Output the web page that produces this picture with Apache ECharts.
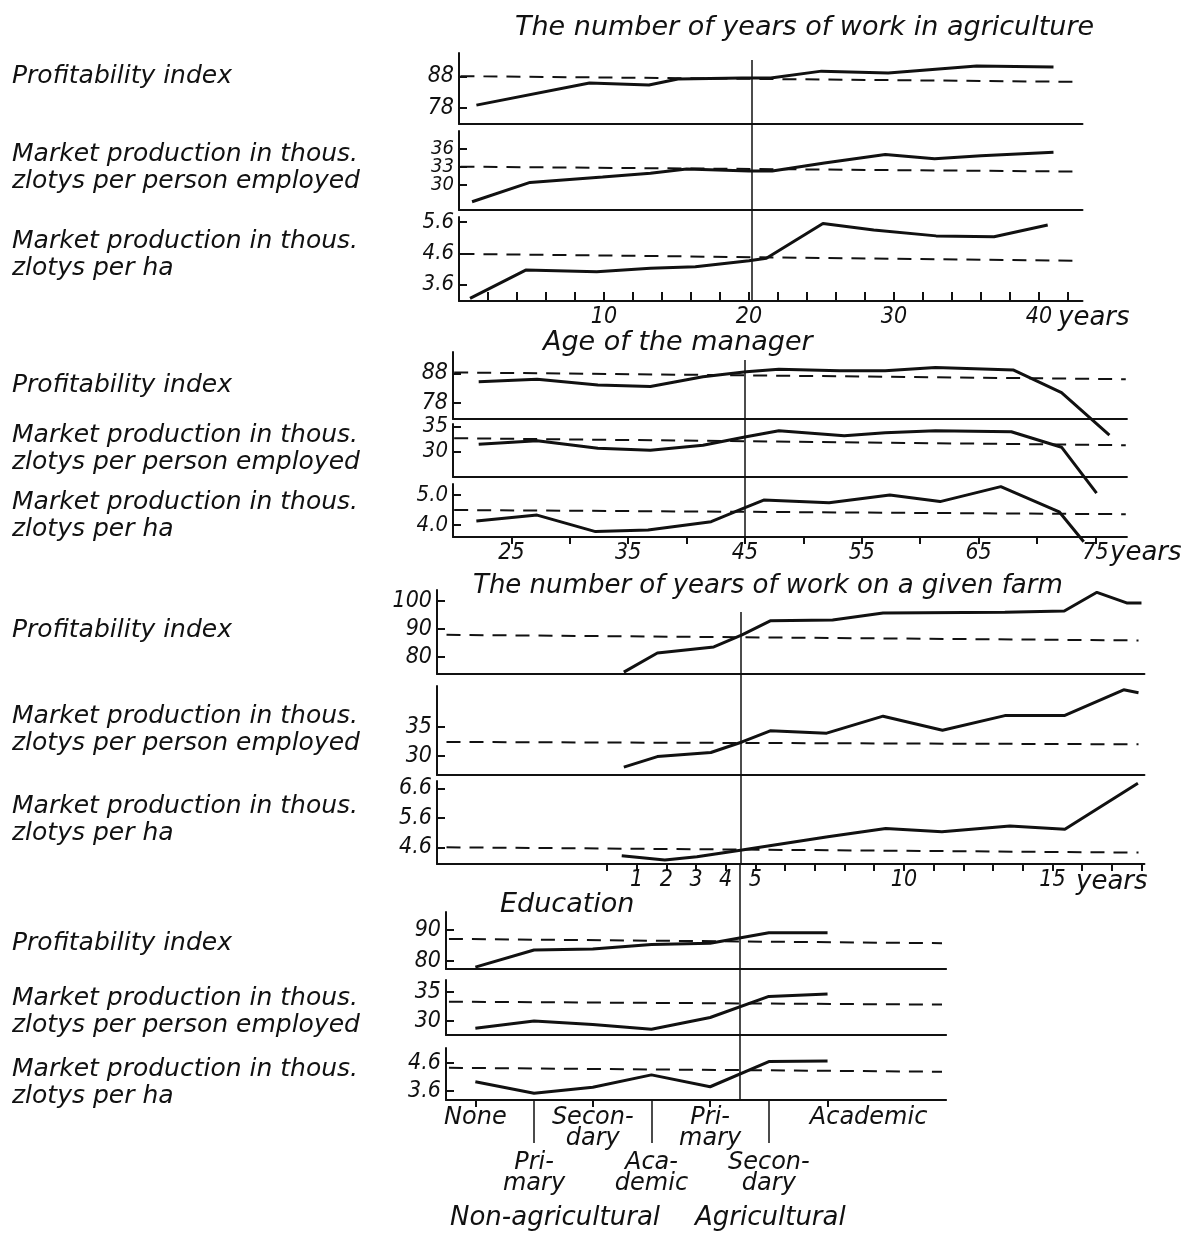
<!DOCTYPE html>
<html>
<head>
<meta charset="utf-8">
<script src="https://cdn.jsdelivr.net/npm/echarts@6/dist/echarts.min.js"></script>
<style>
html,body{margin:0;padding:0;background:#fff;}
#chart{width:1191px;height:1240px;}
</style>
</head>
<body>
<div id="chart"></div>
<script>
// ---------- DATA ----------
// Group 1: number of years of work in agriculture
const g1PiX = [1.2, 9.0, 13.1, 15.1, 19.5, 21.5, 25.0, 29.6, 35.7, 41.0];
const g1PiY = [78.9, 85.9, 85.3, 87.2, 87.5, 87.5, 89.7, 89.1, 91.3, 91.0];
const g1MpX = [0.9, 4.9, 9.9, 13.2, 15.7, 20.0, 21.6, 25.2, 29.4, 32.8, 36.0, 41.0];
const g1MpY = [27.2, 30.4, 31.3, 31.9, 32.6, 32.3, 32.3, 33.6, 35.0, 34.3, 34.8, 35.4];
const g1HaX = [0.76, 4.6, 9.5, 13.2, 16.3, 20.0, 21.2, 25.1, 28.6, 32.9, 36.9, 40.6];
const g1HaY = [3.15, 4.06, 4.01, 4.12, 4.17, 4.36, 4.44, 5.56, 5.35, 5.16, 5.13, 5.51];
const g1Avg = {pi: [88.1, 86.3], mp: [33.0, 32.2], ha: [4.58, 4.36]};
const g1Ref = 20.2;
const g1XLabels = [10, 20, 30, 40];

// Group 2: age of the manager
const g2PiX = [22.2, 27.2, 32.4, 36.9, 41.4, 45.1, 47.9, 53.1, 57.0, 61.3, 68.0, 72.1, 76.2];
const g2PiY = [85.1, 86.0, 84.0, 83.5, 86.8, 88.5, 89.4, 88.9, 88.9, 90.0, 89.1, 81.4, 67.0];
const g2MpX = [22.2, 27.2, 32.4, 36.9, 41.4, 45.1, 47.9, 53.5, 57.0, 61.3, 67.8, 72.1, 75.1];
const g2MpY = [31.5, 32.2, 30.7, 30.3, 31.3, 33.0, 34.2, 33.2, 33.8, 34.2, 34.0, 30.9, 21.7];
const g2HaX = [22.0, 27.2, 32.2, 36.7, 42.1, 44.9, 46.6, 52.2, 57.4, 61.7, 66.9, 71.9, 74.0];
const g2HaY = [4.13, 4.33, 3.78, 3.83, 4.11, 4.56, 4.83, 4.74, 5.0, 4.78, 5.28, 4.44, 3.44];
const g2Avg = {pi: [88.3, 86.0], mp: [32.7, 31.3], ha: [4.5, 4.36]};
const g2Ref = 45;
const g2XLabels = [25, 35, 45, 55, 65, 75];

// Group 3: number of years of work on a given farm
const g3PiX = [0.57, 1.7, 3.6, 4.55, 5.5, 7.6, 9.3, 13.4, 15.4, 16.5, 17.5, 18.0];
const g3PiY = [74.5, 81.3, 83.5, 87.8, 92.8, 93.1, 95.6, 95.9, 96.3, 103.0, 99.2, 99.2];
const g3MpX = [0.57, 1.7, 3.5, 4.55, 5.5, 7.4, 9.3, 11.3, 13.4, 15.4, 17.4, 17.9];
const g3MpY = [28.1, 29.9, 30.6, 32.4, 34.3, 33.9, 36.8, 34.4, 36.9, 36.9, 41.3, 40.8];
const g3HaX = [0.5, 1.95, 3.03, 4.55, 7.44, 9.39, 11.28, 13.57, 15.42, 17.88];
const g3HaY = [4.31, 4.17, 4.28, 4.51, 4.96, 5.24, 5.13, 5.32, 5.21, 6.77];
const g3Avg = {pi: [87.8, 85.8], mp: [32.4, 32.0], ha: [4.6, 4.42]};
const g3Ref = 4.5;
const g3XLabels = [1, 2, 3, 4, 5, 10, 15];

// Group 4: education
const eduCategories = ['None', 'Pri-\nmary', 'Secon-\ndary', 'Aca-\ndemic', 'Pri-\nmary', 'Secon-\ndary', 'Academic'];
const eduPi = [77.9, 83.5, 83.8, 85.3, 85.7, 89.1, 89.1];
const eduMp = [28.75, 30.0, 29.4, 28.6, 30.6, 34.2, 34.6];
const eduHa = [3.93, 3.52, 3.73, 4.17, 3.75, 4.64, 4.66];
const g4Avg = {pi: [87.1, 85.7], mp: [33.3, 32.8], ha: [4.42, 4.28]};
const g4Ref = 4.5;

// y tick labels per panel
const tPi1 = [78, 88], tMp1 = [30, 33, 36], tHa1 = [3.6, 4.6, 5.6];
const tPi2 = [78, 88], tMp2 = [30, 35], tHa2 = [4.0, 5.0];
const tPi3 = [80, 90, 100], tMp3 = [30, 35], tHa3 = [4.6, 5.6, 6.6];
const tPi4 = [80, 90], tMp4 = [30, 35], tHa4 = [3.6, 4.6];

// ---------- LAYOUT / STYLE ----------
const FONT = "'DejaVu Sans','Noto Sans',sans-serif";
const NUMFONT = "'DejaVu Sans Condensed','DejaVu Sans',sans-serif";
const INK = '#111';
const zip = (a, b) => a.map((v, i) => [v, b[i]]);
const idx = a => a.map((_, i) => i);
const range = (a, b, s) => { const r = []; for (let v = a; v <= b + 1e-9; v += s) r.push(+v.toFixed(4)); return r; };

const groups = [
  {left: 459, xmin: 0, xmax: 43, pxPer: 14.5, ref: g1Ref, vTop: 60,
   ticks: range(2, 42, 2), labels: g1XLabels, tickInside: true, dash: [0.1, 42.5],
   panels: [
     {top: 53, bottom: 124, ymin: 72.9, ymax: 95.46, t: tPi1, dec: 0, fs: 23, d: zip(g1PiX, g1PiY), avg: g1Avg.pi},
     {top: 131, bottom: 210, ymin: 25.84, ymax: 38.9, t: tMp1, dec: 0, fs: 20, split: true, d: zip(g1MpX, g1MpY), avg: g1Avg.mp},
     {top: 217, bottom: 301, ymin: 3.066, ymax: 5.767, t: tHa1, dec: 1, fs: 22, d: zip(g1HaX, g1HaY), avg: g1Avg.ha}
   ]},
  {left: 453, xmin: 20, xmax: 77.7, pxPer: 11.68, ref: g2Ref, vTop: 360,
   ticks: range(25, 75, 5), labels: g2XLabels, tickInside: false, dash: [20.1, 77.6],
   panels: [
     {top: 352, bottom: 419, ymin: 72.46, ymax: 95.24, t: tPi2, dec: 0, fs: 23, d: zip(g2PiX, g2PiY), avg: g2Avg.pi},
     {top: 424, bottom: 477, ymin: 24.94, ymax: 35.54, t: tMp2, dec: 0, fs: 22, d: zip(g2MpX, g2MpY), avg: g2Avg.mp},
     {top: 484, bottom: 537, ymin: 3.6, ymax: 5.367, t: tHa2, dec: 1, fs: 22, d: zip(g2HaX, g2HaY), avg: g2Avg.ha}
   ]},
  {left: 437, xmin: -5.72, xmax: 18.1, pxPer: 29.7, ref: g3Ref, vTop: 612,
   ticks: range(0, 18, 1), labels: g3XLabels, tickInside: false, dash: [-5.4, 17.9],
   panels: [
     {top: 590, bottom: 674, ymin: 73.82, ymax: 103.82, t: tPi3, dec: 0, fs: 23, d: zip(g3PiX, g3PiY), avg: g3Avg.pi},
     {top: 686, bottom: 775, ymin: 26.76, ymax: 41.95, t: tMp3, dec: 0, fs: 23, d: zip(g3MpX, g3MpY), avg: g3Avg.mp},
     {top: 781, bottom: 864, ymin: 4.034, ymax: 6.847, t: tHa3, dec: 1, fs: 23, d: zip(g3HaX, g3HaY), avg: g3Avg.ha}
   ]},
  {left: 446, xmin: -0.5, xmax: 8.02, pxPer: 58.7, ref: g4Ref, vTop: 864,
   ticks: [0, 2, 4, 6], labels: [], tickInside: false, dash: [-0.45, 7.95], edu: true,
   panels: [
     {top: 912, bottom: 969, ymin: 77.3, ymax: 95.86, t: tPi4, dec: 0, fs: 23, d: zip(idx(eduPi), eduPi), avg: g4Avg.pi},
     {top: 980, bottom: 1035, ymin: 27.61, ymax: 37.0, t: tMp4, dec: 0, fs: 23, d: zip(idx(eduMp), eduMp), avg: g4Avg.mp},
     {top: 1048, bottom: 1100, ymin: 3.282, ymax: 5.119, t: tHa4, dec: 1, fs: 23, d: zip(idx(eduHa), eduHa), avg: g4Avg.ha}
   ]}
];

const grid = [], xAxis = [], yAxis = [], series = [];
const numLabel = {fontSize: 23, fontStyle: 'italic', fontFamily: NUMFONT, color: INK, hideOverlap: false, showMinLabel: true, showMaxLabel: true};
const hidden = {axisLine: {show: false}, axisTick: {show: false}, splitLine: {show: false}};

groups.forEach((g, gi) => {
  const width = (g.xmax - g.xmin) * g.pxPer;
  g.panels.forEach((p, pi) => {
    const k = grid.length;
    const isBottom = pi === 2;
    grid.push({left: g.left, top: p.top, width: width, height: p.bottom - p.top, outerBoundsMode: 'none', containLabel: false});
    xAxis.push({
      type: 'value', gridIndex: k, min: g.xmin, max: g.xmax, position: 'bottom',
      axisLine: {show: true, onZero: false, lineStyle: {color: INK, width: 2}},
      splitLine: {show: false},
      axisTick: {show: isBottom, inside: g.tickInside, length: g.tickInside ? 9 : 7, customValues: g.ticks, lineStyle: {color: INK, width: 2}},
      axisLabel: {show: isBottom && g.labels.length > 0, customValues: g.labels, margin: 5, ...numLabel}
    });
    const lab1 = p.split ? p.t.filter((v, i) => i % 2 === 0) : p.t;
    yAxis.push({
      type: 'value', gridIndex: k, min: p.ymin, max: p.ymax,
      axisLine: {show: true, onZero: false, lineStyle: {color: INK, width: 2}},
      splitLine: {show: false},
      axisTick: {show: true, inside: true, length: 8, customValues: p.t, lineStyle: {color: INK, width: 2}},
      axisLabel: {customValues: lab1, formatter: v => v.toFixed(p.dec), margin: 5, ...numLabel, fontSize: p.fs, lineHeight: p.fs - 4}
    });
    series.push({
      type: 'line', xAxisIndex: k, yAxisIndex: k, data: p.d, symbol: 'none', clip: false,
      lineStyle: {color: INK, width: 3}, silent: true,
      markLine: {
        silent: true, symbol: ['none', 'none'], label: {show: false},
        lineStyle: {type: [14, 9], width: 2, color: INK},
        data: [[{coord: [g.dash[0], p.avg[0]]}, {coord: [g.dash[1], p.avg[1]]}]]
      }
    });
    p.gridIdx = k;
  });
});

// vertical reference lines (one overlay grid per group)
groups.forEach((g, gi) => {
  const k = grid.length;
  const width = (g.xmax - g.xmin) * g.pxPer;
  grid.push({left: g.left, top: g.vTop, width: width, height: g.panels[2].bottom - g.vTop, outerBoundsMode: 'none'});
  xAxis.push({type: 'value', gridIndex: k, min: g.xmin, max: g.xmax, show: false});
  yAxis.push({type: 'value', gridIndex: k, min: 0, max: 1, show: false});
  series.push({
    type: 'line', xAxisIndex: k, yAxisIndex: k, data: [], symbol: 'none',
    markLine: {silent: true, symbol: ['none', 'none'], label: {show: false},
      lineStyle: {type: 'solid', width: 1.5, color: INK},
      data: [[{coord: [g.ref, 0]}, {coord: [g.ref, 1]}]]}
  });
});

// extra y-label axes for crowded panels
groups.forEach(g => g.panels.forEach(p => {
  if (!p.split) return;
  yAxis.push({
    type: 'value', gridIndex: p.gridIdx, min: p.ymin, max: p.ymax, position: 'left', ...hidden,
    axisLabel: {customValues: p.t.filter((v, i) => i % 2 === 1), formatter: v => v.toFixed(p.dec), margin: 5, ...numLabel, fontSize: p.fs, lineHeight: p.fs - 4}
  });
}));

// education axis: labels in two staggered rows plus the shifted last label
{
  const g = groups[3];
  const gIdx = g.panels[2].gridIdx;
  const eduLabel = {fontSize: 24, fontStyle: 'italic', fontFamily: FONT, color: INK, lineHeight: 21,
    hideOverlap: false, showMinLabel: true, showMaxLabel: true, formatter: v => eduCategories[Math.round(v)]};
  // row 1 labels (0, 2, 4)
  xAxis.push({
    type: 'value', gridIndex: gIdx, min: g.xmin, max: g.xmax, position: 'bottom', ...hidden,
    axisLabel: {customValues: [0, 2, 4], margin: 7, ...eduLabel}
  });
  // row 2 labels (1, 3, 5) with long separator ticks
  xAxis.push({
    type: 'value', gridIndex: gIdx, min: g.xmin, max: g.xmax, position: 'bottom',
    axisLine: {show: false}, splitLine: {show: false},
    axisTick: {show: true, length: 43, customValues: [1, 3, 5], lineStyle: {color: INK, width: 1.5}},
    axisLabel: {customValues: [1, 3, 5], margin: 52, ...eduLabel}
  });
  // last label, set to the right of its tick
  xAxis.push({
    type: 'value', gridIndex: gIdx, min: g.xmin, max: g.xmax, position: 'bottom', ...hidden,
    axisLabel: {customValues: [6], margin: 7, ...eduLabel, padding: [0, 0, 0, 82]}
  });
}

// ---------- TEXT ----------
const txt = (text, x, y, size, lh) => ({
  type: 'text', left: x, top: y,
  style: {text: text, fontSize: size || 25, fontStyle: 'italic', fontFamily: FONT, fill: INK, lineHeight: lh || 27}
});
const MP1 = 'Market production in thous.\nzlotys per person employed';
const MP2 = 'Market production in thous.\nzlotys per ha';
const PI = 'Profitability index';
const graphic = [
  txt('The number of years of work in agriculture', 515, 14, 27),
  txt('Age of the manager', 543, 329, 27),
  txt('The number of years of work on a given farm', 473, 573, 26),
  txt('Education', 500, 891, 27),
  txt(PI, 12, 63), txt(MP1, 12, 141), txt(MP2, 12, 228),
  txt(PI, 12, 372), txt(MP1, 12, 422), txt(MP2, 12, 489),
  txt(PI, 12, 617), txt(MP1, 12, 703), txt(MP2, 12, 793),
  txt(PI, 12, 930), txt(MP1, 12, 985), txt(MP2, 12, 1056),
  txt('years', 1058, 305, 26),
  txt('years', 1110, 540, 26),
  txt('years', 1076, 869, 26),
  txt('Non-agricultural', 450, 1205, 26),
  txt('Agricultural', 695, 1205, 26)
];

const chart = echarts.init(document.getElementById('chart'), null, {renderer: 'canvas'});
chart.setOption({
  backgroundColor: '#fff',
  animation: false,
  grid: grid, xAxis: xAxis, yAxis: yAxis, series: series,
  graphic: graphic
});
</script>
</body>
</html>
